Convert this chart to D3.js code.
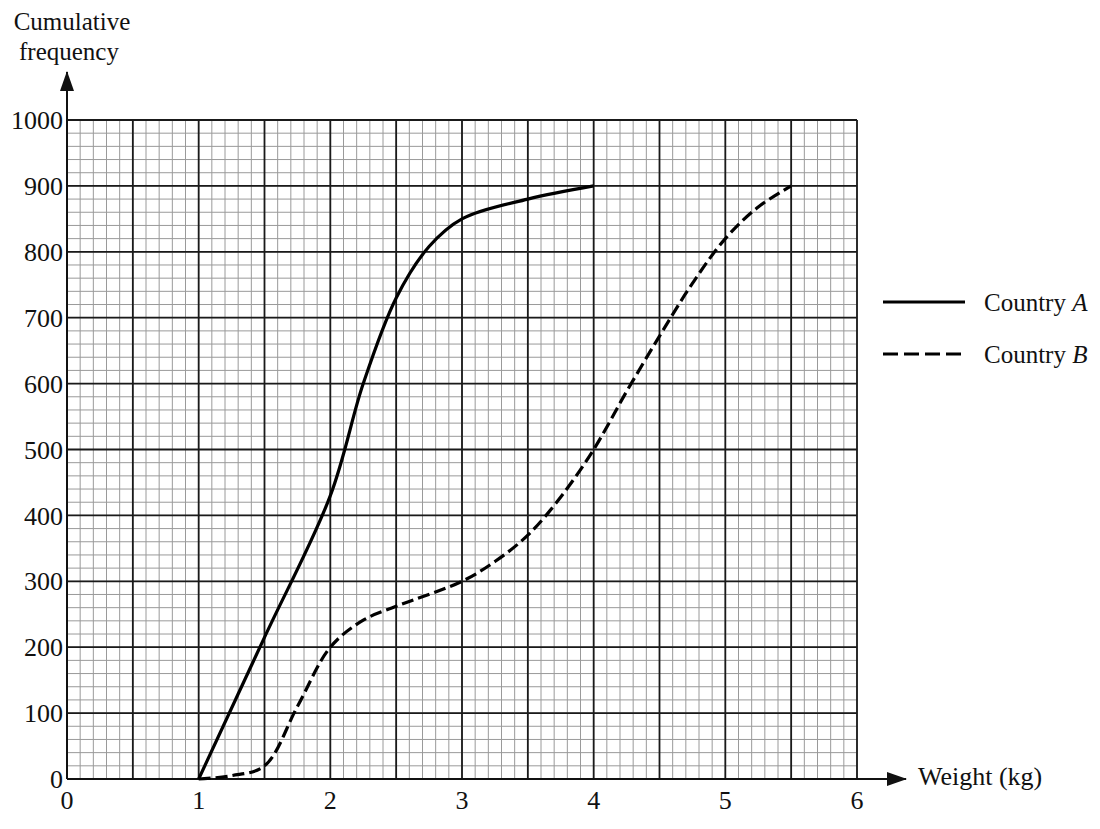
<!DOCTYPE html>
<html>
<head>
<meta charset="utf-8">
<script src="https://cdn.jsdelivr.net/npm/d3@7"></script>
<style>
  body { margin: 0; background: #fff; }
  text { font-family: "Liberation Serif", "DejaVu Serif", serif; fill: #111; }
</style>
</head>
<body>
<div id="chart"></div>
<script>
// cumulative frequency curves
const weightA = [1, 1.5, 2, 2.25, 2.5, 2.75, 3, 3.5, 4];
const freqA   = [0, 215, 430, 600, 730, 808, 850, 880, 900];
const weightB = [1, 1.25, 1.5, 1.75, 2, 2.25, 2.5, 3, 3.25, 3.5, 3.75, 4, 4.25, 4.5, 4.75, 5, 5.25, 5.5];
const freqB   = [0, 5, 20, 110, 200, 241, 262, 300, 330, 370, 428, 500, 588, 672, 752, 820, 868, 900];
const xTicks = [0, 1, 2, 3, 4, 5, 6];
const yTicks = [0, 100, 200, 300, 400, 500, 600, 700, 800, 900, 1000];
const legendNames = ["Country ", "Country "];
const legendLetters = ["A", "B"];

const width = 1100, height = 829;
const margin = {top: 120, right: 243, bottom: 50, left: 67};

const svg = d3.select("#chart").append("svg")
    .attr("width", width)
    .attr("height", height);

const x = d3.scaleLinear().domain([0, 6]).range([margin.left, width - margin.right]);
const y = d3.scaleLinear().domain([0, 1000]).range([height - margin.bottom, margin.top]);

// minor grid every 0.1 kg / 20
const minorX = d3.range(0, 61).map(d => d / 10);
const minorY = d3.range(0, 51).map(d => d * 20);
const grid = svg.append("g");
grid.selectAll(".mx").data(minorX).enter().append("line")
    .attr("x1", d => x(d)).attr("x2", d => x(d))
    .attr("y1", y(0)).attr("y2", y(1000))
    .attr("stroke", "#9a9a9a").attr("stroke-width", 1);
grid.selectAll(".my").data(minorY).enter().append("line")
    .attr("y1", d => y(d)).attr("y2", d => y(d))
    .attr("x1", x(0)).attr("x2", x(6))
    .attr("stroke", "#9a9a9a").attr("stroke-width", 1);

// major grid every 0.5 kg / 100
const majorX = d3.range(0, 13).map(d => d / 2);
grid.selectAll(".Mx").data(majorX).enter().append("line")
    .attr("x1", d => x(d)).attr("x2", d => x(d))
    .attr("y1", y(0)).attr("y2", y(1000))
    .attr("stroke", "#1a1a1a").attr("stroke-width", 1.8);
grid.selectAll(".My").data(yTicks).enter().append("line")
    .attr("y1", d => y(d)).attr("y2", d => y(d))
    .attr("x1", x(0)).attr("x2", x(6))
    .attr("stroke", "#1a1a1a").attr("stroke-width", 1.8);

// axes with arrows
svg.append("defs").append("marker")
    .attr("id", "arrow")
    .attr("viewBox", "0 0 20 14")
    .attr("refX", 19).attr("refY", 7)
    .attr("markerWidth", 20).attr("markerHeight", 14)
    .attr("markerUnits", "userSpaceOnUse")
    .attr("orient", "auto")
  .append("path")
    .attr("d", "M0,0 L20,7 L0,14 Z")
    .attr("fill", "#111");

svg.append("line")
    .attr("x1", x(0)).attr("x2", x(0))
    .attr("y1", y(0)).attr("y2", 72)
    .attr("stroke", "#111").attr("stroke-width", 2)
    .attr("marker-end", "url(#arrow)");
svg.append("line")
    .attr("x1", x(0)).attr("x2", 906)
    .attr("y1", y(0)).attr("y2", y(0))
    .attr("stroke", "#111").attr("stroke-width", 2)
    .attr("marker-end", "url(#arrow)");

// tick labels
svg.selectAll(".ylab").data(yTicks).enter().append("text")
    .attr("x", x(0) - 4)
    .attr("y", d => y(d))
    .attr("dy", "0.35em")
    .attr("text-anchor", "end")
    .attr("font-size", 26)
    .text(d => d);
svg.selectAll(".xlab").data(xTicks).enter().append("text")
    .attr("x", d => x(d))
    .attr("y", y(0) + 30)
    .attr("text-anchor", "middle")
    .attr("font-size", 26)
    .text(d => d);

// axis titles
svg.append("text").attr("x", 72).attr("y", 30).attr("text-anchor", "middle")
    .attr("font-size", 25).text("Cumulative");
svg.append("text").attr("x", 69).attr("y", 60).attr("text-anchor", "middle")
    .attr("font-size", 25).text("frequency");
svg.append("text").attr("x", 918).attr("y", 785)
    .attr("font-size", 26).text("Weight (kg)");

// curves
const line = d3.line()
    .x(d => x(d[0]))
    .y(d => y(d[1]))
    .curve(d3.curveCatmullRom.alpha(0.5));

const dataA = weightA.map((w, i) => [w, freqA[i]]);
const dataB = weightB.map((w, i) => [w, freqB[i]]);

svg.append("path")
    .attr("d", line(dataA))
    .attr("fill", "none")
    .attr("stroke", "#000")
    .attr("stroke-width", 3.2);
svg.append("path")
    .attr("d", line(dataB))
    .attr("fill", "none")
    .attr("stroke", "#000")
    .attr("stroke-width", 3.2)
    .attr("stroke-dasharray", "12,5");

// legend
const legend = svg.append("g");
const legendY = [302, 354];
legendY.forEach((ly, i) => {
    legend.append("line")
        .attr("x1", 883).attr("x2", 965)
        .attr("y1", ly).attr("y2", ly)
        .attr("stroke", "#000")
        .attr("stroke-width", 3.2)
        .attr("stroke-dasharray", i === 1 ? "15,6" : null);
    const t = legend.append("text")
        .attr("x", 984).attr("y", ly)
        .attr("dy", "0.35em")
        .attr("font-size", 25);
    t.append("tspan").text(legendNames[i]);
    t.append("tspan").attr("font-style", "italic").text(legendLetters[i]);
});
</script>
</body>
</html>
